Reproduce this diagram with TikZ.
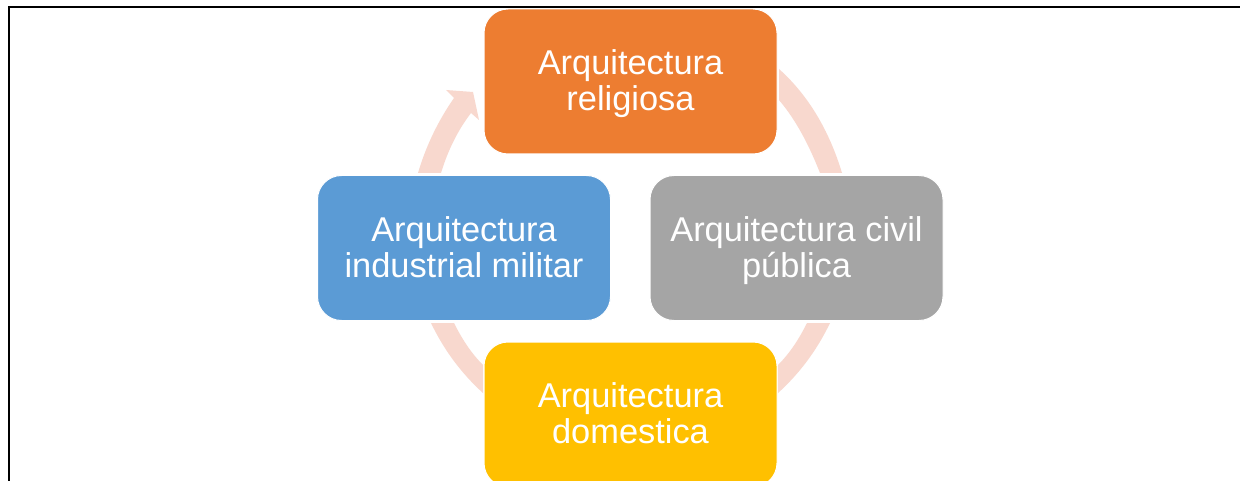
\documentclass[tikz,border=0pt]{standalone}
\usepackage{fontspec}
\setmainfont{Liberation Sans}
\definecolor{cOrange}{HTML}{ED7D31}
\definecolor{cBlue}{HTML}{5B9BD5}
\definecolor{cGray}{HTML}{A5A5A5}
\definecolor{cYellow}{HTML}{FFC000}
\definecolor{cRing}{HTML}{F8D8CE}
\newcommand\firstline{\rule{0pt}{33.2pt}}
\tikzset{
  cyclebox/.style={draw=white,line width=1pt,rounded corners=24pt,minimum width=293pt,minimum height=145pt,
    text=white,align=center,inner sep=0pt,font=\fontsize{34.4}{36}\selectfont},
  ringpart/.style={fill=cRing,draw=none},
  frameline/.style={draw=black,line width=2pt,line cap=butt}
}
\begin{document}
\begin{tikzpicture}[x=1pt,y=-1pt]
\path[use as bounding box,clip] (0,0) rectangle (1240,481);
\fill[white] (0,0) rectangle (1240,481);
\draw[frameline] (9,481) -- (9,7.5) -- (1240,7.5);
% ring segments
\path[ringpart] (779,69) .. controls (808,95) and (829,130) .. (842,173) -- (820,173) .. controls (809,145) and (796,120) .. (779,100) -- cycle;
\path[ringpart] (830,323) .. controls (817,350) and (800,373) .. (778,393) -- (778,365) .. controls (790,353) and (799,339) .. (807,323) -- cycle;
\path[ringpart] (431,323) .. controls (444,350) and (461,373) .. (483,393) -- (483,365) .. controls (471,353) and (462,339) .. (454,323) -- cycle;
\path[ringpart] (418,173) .. controls (426,146) and (438,121) .. (454,98) -- (446,90) -- (473,92) -- (479,120) -- (471,113) .. controls (458,130) and (448,150) .. (441,173) -- cycle;
% boxes
\node[cyclebox,fill=cOrange] (rel) at (630.5,81.5) {\firstline Arquitectura\\\strut religiosa};
\node[cyclebox,fill=cBlue] (mil) at (464,248) {\firstline Arquitectura\\\strut industrial militar};
\node[cyclebox,fill=cGray] (civ) at (796.5,248) {\firstline Arquitectura civil\\\strut pública};
\node[cyclebox,fill=cYellow] (dom) at (630.5,414.5) {\firstline Arquitectura\\\strut domestica};
\end{tikzpicture}
\end{document}
